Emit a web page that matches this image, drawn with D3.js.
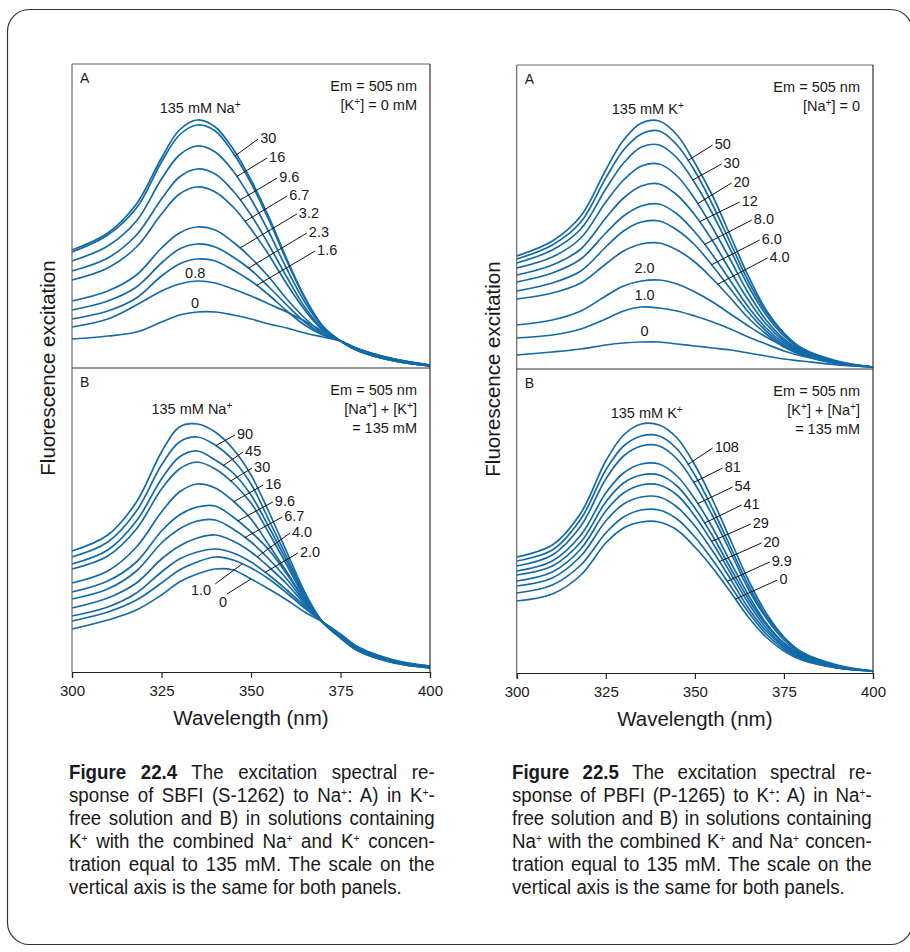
<!DOCTYPE html>
<html>
<head>
<meta charset="utf-8">
<script src="https://cdn.jsdelivr.net/npm/d3@7"></script>
<style>
  body { margin: 0; background: #fff; }
  svg text { font-family: "Liberation Sans", Arial, Helvetica, sans-serif; fill: #1a1a1a; }
</style>
</head>
<body>
<svg id="fig" width="910" height="952"></svg>
<script>
var wl = [300, 310, 318, 325, 330, 335, 340, 345, 350, 355, 360, 365, 370, 375, 380, 390, 400];

// Fig 22.4 A  SBFI, [Na+] series in K+-free solution (relative intensity)
var sbfiA_conc = ["135", "30", "16", "9.6", "6.7", "3.2", "2.3", "1.6", "0.8", "0"];
var sbfiA = [
  [118, 135, 164, 210, 238, 248, 241, 219, 188, 151, 109, 71, 42, 27, 17, 7, 2],
  [116, 133, 160, 206, 233, 243, 237, 215, 185, 148, 107, 70, 42, 27, 17, 7, 2],
  [107, 122, 147, 189, 213, 222, 216, 197, 169, 136, 99, 66, 41, 27, 17, 7, 2],
  [97, 110, 133, 169, 191, 199, 194, 177, 153, 123, 91, 61, 39, 27, 18, 8, 2],
  [88, 100, 121, 154, 174, 181, 176, 161, 139, 113, 84, 58, 38, 27, 18, 8, 3],
  [67, 77, 93, 120, 135, 141, 138, 126, 110, 91, 69, 50, 35, 27, 18, 8, 3],
  [58, 67, 81, 105, 119, 124, 121, 111, 98, 81, 63, 46, 34, 27, 19, 8, 3],
  [49, 57, 70, 92, 104, 109, 107, 98, 87, 73, 57, 43, 33, 27, 19, 9, 3],
  [41, 49, 63, 77, 84, 87, 85, 79, 72, 64, 56, 47, 37, 27, 19, 9, 3],
  [29, 32, 36, 46, 53, 56, 56, 53, 49, 44, 40, 35, 31, 27, 19, 9, 3]
];

// Fig 22.4 B  SBFI, [Na+] + [K+] = 135 mM
var sbfiB_conc = ["135", "90", "45", "30", "16", "9.6", "6.7", "4.0", "2.0", "1.0", "0"];
var sbfiB = [
  [121, 137, 170, 220, 245, 248, 240, 223, 197, 160, 120, 80, 50, 34, 21, 9, 4],
  [115, 130, 161, 207, 230, 235, 227, 212, 188, 152, 115, 78, 50, 34, 21, 9, 4],
  [108, 122, 151, 193, 215, 221, 212, 199, 177, 145, 111, 76, 50, 35, 22, 10, 4],
  [103, 116, 143, 183, 203, 210, 203, 189, 169, 139, 107, 74, 50, 35, 22, 10, 5],
  [89, 101, 125, 160, 180, 188, 184, 171, 153, 127, 100, 72, 50, 35, 22, 10, 5],
  [80, 91, 110, 141, 157, 165, 166, 155, 140, 122, 98, 72, 50, 36, 23, 10, 5],
  [73, 83, 101, 129, 143, 151, 152, 143, 130, 113, 93, 70, 50, 36, 23, 11, 5],
  [64, 74, 89, 113, 126, 134, 137, 131, 120, 105, 88, 68, 50, 37, 23, 11, 5],
  [56, 65, 79, 100, 113, 120, 123, 119, 110, 97, 82, 66, 50, 37, 24, 11, 6],
  [51, 60, 72, 89, 102, 110, 115, 112, 104, 93, 79, 64, 50, 37, 24, 11, 6],
  [43, 52, 62, 77, 90, 98, 103, 102, 93, 83, 72, 60, 50, 38, 25, 12, 6]
];

// Fig 22.5 A  PBFI, [K+] series in Na+-free solution
var pbfiA_conc = ["135", "50", "30", "20", "12", "8.0", "6.0", "4.0", "2.0", "1.0", "0"];
var pbfiA = [
  [113, 128, 153, 199, 229, 246, 248, 234, 206, 173, 133, 93, 59, 36, 21, 8, 2],
  [110, 124, 147, 191, 219, 235, 238, 224, 198, 164, 126, 88, 57, 35, 20, 7, 2],
  [106, 119, 140, 180, 206, 222, 224, 211, 186, 155, 119, 83, 54, 33, 19, 7, 2],
  [101, 112, 131, 167, 189, 203, 205, 193, 170, 141, 109, 76, 49, 30, 18, 7, 2],
  [94, 104, 120, 151, 171, 183, 185, 174, 154, 128, 98, 69, 45, 28, 17, 6, 2],
  [87, 96, 110, 136, 153, 163, 165, 155, 137, 114, 88, 62, 41, 26, 16, 6, 2],
  [78, 86, 98, 122, 138, 147, 148, 139, 124, 103, 80, 57, 38, 24, 15, 6, 2],
  [70, 76, 86, 105, 118, 125, 126, 119, 107, 90, 71, 51, 35, 22, 14, 5, 2],
  [44, 49, 58, 73, 83, 88, 89, 85, 77, 67, 55, 43, 32, 23, 16, 7, 2],
  [31, 34, 40, 50, 58, 62, 61, 58, 53, 47, 40, 32, 25, 18, 13, 6, 2],
  [14, 17, 20, 24, 26, 27, 27, 25, 23, 21, 19, 16, 13, 10, 8, 4, 2]
];

// Fig 22.5 B  PBFI, [K+] + [Na+] = 135 mM
var pbfiB_conc = ["135", "108", "81", "54", "41", "29", "20", "9.9", "0"];
var pbfiB = [
  [116, 128, 160, 212, 238, 249, 248, 235, 208, 173, 133, 93, 60, 36, 21, 8, 2],
  [112, 123, 154, 203, 227, 237, 237, 224, 198, 164, 126, 88, 57, 35, 20, 7, 2],
  [107, 118, 147, 194, 217, 227, 227, 214, 189, 157, 121, 84, 55, 33, 19, 7, 2],
  [102, 112, 138, 180, 200, 209, 209, 197, 174, 145, 111, 78, 50, 30, 18, 6, 2],
  [98, 107, 131, 171, 190, 198, 198, 187, 165, 137, 105, 74, 48, 29, 17, 6, 2],
  [92, 101, 124, 162, 180, 188, 188, 178, 157, 130, 100, 70, 45, 27, 16, 6, 2],
  [87, 95, 117, 152, 169, 176, 176, 166, 147, 122, 94, 65, 42, 26, 15, 5, 2],
  [80, 88, 108, 140, 156, 163, 163, 154, 136, 113, 87, 61, 39, 24, 14, 5, 2],
  [72, 79, 98, 130, 145, 151, 151, 143, 126, 105, 81, 56, 36, 22, 13, 5, 2]
];

var xTicks = [300, 325, 350, 375, 400];

var captionL = [
  "**Figure 22.4** The excitation spectral re-",
  "sponse of SBFI (S-1262) to Na^+: A) in K^+-",
  "free solution and B) in solutions containing",
  "K^+ with the combined Na^+ and K^+ concen-",
  "tration equal to 135 mM. The scale on the",
  "vertical axis is the same for both panels."
];
var captionR = [
  "**Figure 22.5** The excitation spectral re-",
  "sponse of PBFI (P-1265) to K^+: A) in Na^+-",
  "free solution and B) in solutions containing",
  "Na^+ with the combined K^+ and Na^+ concen-",
  "tration equal to 135 mM. The scale on the",
  "vertical axis is the same for both panels."
];

// label placement: leader from curve (at nm s) to point e [nm, value]
var figures = [
  { x0: 72, x1: 430, top: 64, mid: 368, bottom: 672, ylab: 54, caption: captionL, capX: 69, capW: 366,
    panels: [
      { tag: "A", series: sbfiA, conc: sbfiA_conc, em: ["Em = 505 nm", "[K^+] = 0 mM"],
        header: { t: "135 mM Na^+", at: [335.8, 255] },
        leaders: [[1, 345.5, 352.0, 229], [2, 346, 354.5, 210], [3, 346.9, 357.3, 190], [4, 348.3, 360.1, 172],
                  [5, 346.9, 362.8, 154], [6, 349.3, 365.6, 135], [7, 351.6, 367.9, 117]],
        tops: [[8, 334.4, 90], [9, 334.4, 60]] },
      { tag: "B", series: sbfiB, conc: sbfiB_conc, em: ["Em = 505 nm", "[Na^+] + [K^+]", "= 135 mM"],
        header: { t: "135 mM Na^+", at: [333.5, 258] },
        leaders: [[1, 340.2, 345.5, 237], [2, 342.2, 347.8, 220], [3, 344.3, 350.3, 204], [4, 345.2, 353.4, 187],
                  [5, 346.3, 356.1, 170], [6, 348.3, 358.7, 155], [7, 351.7, 360.9, 139], [8, 354, 363.1, 119],
                  [9, 347.5, 340.0, 88, "end", -4, 11], [10, 350, 343.3, 78, "end", 0, 13]],
        tops: [] }
    ] },
  { x0: 516.7, x1: 873, top: 65, mid: 369, bottom: 673, ylab: 499, caption: captionR, capX: 512, capW: 360,
    panels: [
      { tag: "A", series: pbfiA, conc: pbfiA_conc, em: ["Em = 505 nm", "[Na^+] = 0"],
        header: { t: "135 mM K^+", at: [336.8, 255] },
        leaders: [[1, 348.0, 355.0, 224], [2, 349.4, 357.5, 205], [3, 350.8, 360.3, 186], [4, 351.3, 362.6, 167],
                  [5, 352.7, 366.0, 149], [6, 354.7, 368.2, 129], [7, 356.4, 370.4, 111]],
        tops: [[8, 335.9, 96], [9, 335.9, 69], [10, 335.9, 33]] },
      { tag: "B", series: pbfiB, conc: pbfiB_conc, em: ["Em = 505 nm", "[K^+] + [Na^+]", "= 135 mM"],
        header: { t: "135 mM K^+", at: [336.5, 255] },
        leaders: [[1, 348.0, 355.0, 225], [2, 349.7, 357.8, 205], [3, 350.8, 360.6, 186], [4, 352.7, 363.1, 168],
                  [5, 354.7, 365.7, 149], [6, 356.9, 368.7, 130], [7, 359.1, 371.0, 111], [8, 361.4, 373.2, 93]],
        tops: [] }
    ] }
];

var svg = d3.select("#fig");
var blue = "#136aa7";

// outer rounded frame
svg.append("rect").attr("x", 7.5).attr("y", 9.5).attr("width", 905).attr("height", 935)
  .attr("rx", 22).attr("fill", "none").attr("stroke", "#333").attr("stroke-width", 1.2);

function rich(sel, str, supSize) {
  str.split(/(\*\*[^*]+\*\*|\^\+)/).forEach(function (p) {
    if (!p) return;
    if (p === "^+") sel.append("tspan").attr("baseline-shift", "super").attr("font-size", supSize || "70%").text("+");
    else if (p.indexOf("**") === 0) sel.append("tspan").attr("font-weight", "bold").text(p.slice(2, -2));
    else sel.append("tspan").text(p);
  });
  return sel;
}

function interp(arr, nm) {
  for (var i = 0; i < wl.length - 1; i++) {
    if (nm >= wl[i] && nm <= wl[i + 1]) {
      var t = (nm - wl[i]) / (wl[i + 1] - wl[i]);
      return arr[i] + t * (arr[i + 1] - arr[i]);
    }
  }
  return arr[arr.length - 1];
}

figures.forEach(function (f) {
  var g = svg.append("g");
  var x = d3.scaleLinear().domain([300, 400]).range([f.x0, f.x1]);

  f.panels.forEach(function (p, pi) {
    var top = pi === 0 ? f.top : f.mid;
    var bot = pi === 0 ? f.mid : f.bottom;
    var y = d3.scaleLinear().domain([0, 304]).range([bot, top]);
    var line = d3.line().x(function (d, i) { return x(wl[i]); }).y(function (d) { return y(d); })
      .curve(d3.curveCatmullRom.alpha(0.5));

    g.selectAll(null).data(p.series).enter().append("path")
      .attr("d", line).attr("fill", "none").attr("stroke", blue).attr("stroke-width", 1.7);

    // panel tag and conditions
    g.append("text").attr("x", f.x0 + 8).attr("y", top + 19).attr("font-size", 14).text(p.tag);
    p.em.forEach(function (s, k) {
      rich(g.append("text").attr("x", f.x1 - 13).attr("y", top + 27 + k * 19)
        .attr("text-anchor", "end").attr("font-size", 14.5), s);
    });
    rich(g.append("text").attr("x", x(p.header.at[0])).attr("y", y(p.header.at[1]))
      .attr("text-anchor", "middle").attr("font-size", 14.5), p.header.t);

    // leader lines with concentration labels
    p.leaders.forEach(function (L) {
      var idx = L[0], sx = x(L[1]), sy = y(interp(p.series[idx], L[1]));
      var ex = x(L[2]), ey = y(L[3]);
      g.append("line").attr("x1", sx).attr("y1", sy).attr("x2", ex).attr("y2", ey)
        .attr("stroke", "#111").attr("stroke-width", 1);
      var anchor = L[4] || "start", dx = L[4] ? L[5] : 2, dy = L[4] ? L[6] : 4;
      g.append("text").attr("x", ex + dx).attr("y", ey + dy).attr("text-anchor", anchor)
        .attr("font-size", 14.5).text(p.conc[idx]);
    });
    p.tops.forEach(function (T) {
      g.append("text").attr("x", x(T[1])).attr("y", y(T[2])).attr("text-anchor", "middle")
        .attr("font-size", 14.5).text(p.conc[T[0]]);
    });
  });

  // frame
  g.append("line").attr("x1", f.x0).attr("x2", f.x0).attr("y1", f.top).attr("y2", f.bottom).attr("stroke", "#666").attr("stroke-width", 1.2);
  g.append("line").attr("x1", f.x0).attr("x2", f.x1).attr("y1", f.top).attr("y2", f.top).attr("stroke", "#666").attr("stroke-width", 1.2);
  g.append("line").attr("x1", f.x1).attr("x2", f.x1).attr("y1", f.top).attr("y2", f.bottom).attr("stroke", "#333").attr("stroke-width", 1.2);
  g.append("line").attr("x1", f.x0).attr("x2", f.x1).attr("y1", f.mid).attr("y2", f.mid).attr("stroke", "#333").attr("stroke-width", 1.2);

  var ax = g.append("g").attr("transform", "translate(0," + f.bottom + ")")
    .call(d3.axisBottom(x).tickValues(xTicks).tickSize(6).tickPadding(7).tickFormat(d3.format("d")));
  ax.selectAll("path,line").attr("stroke", "#222").attr("stroke-width", 1.2);
  ax.selectAll("text").attr("font-size", 15).attr("fill", "#1a1a1a")
    .style("font-family", "'Liberation Sans', Arial, sans-serif");

  g.append("text").attr("x", (f.x0 + f.x1) / 2).attr("y", f.bottom + 53).attr("text-anchor", "middle")
    .attr("font-size", 20.5).text("Wavelength (nm)");
  g.append("text").attr("transform", "translate(" + (f.ylab + 1) + "," + (f.top + f.bottom) / 2 + ") rotate(-90)")
    .attr("text-anchor", "middle").attr("font-size", 20.5).text("Fluorescence excitation");

  // caption: condensed by horizontal scaling, justified by word spacing
  var cap = svg.append("g");
  var rows = f.caption.map(function (s, k) {
    var row = cap.append("g");
    var t = rich(row.append("text").attr("font-size", 21), s, "55%");
    return { row: row, t: t, s: s, w: t.node().getComputedTextLength() };
  });
  var sx = 333 / rows[rows.length - 1].w;
  rows.forEach(function (r, k) {
    r.row.attr("transform", "translate(" + f.capX + "," + (779 + k * 23) + ") scale(" + sx + ",1)");
    if (k < rows.length - 1) {
      var n = (r.s.match(/ /g) || []).length;
      r.t.attr("word-spacing", (f.capW / sx - r.w) / n);
    }
  });
});
</script>
</body>
</html>
